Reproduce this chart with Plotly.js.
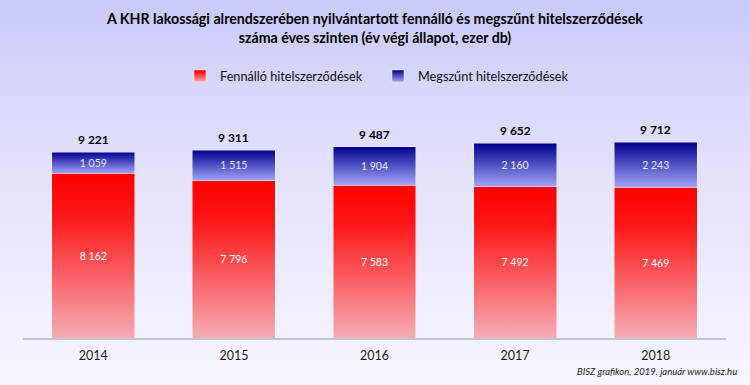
<!DOCTYPE html>
<html>
<head>
<meta charset="utf-8">
<script src="https://cdn.plot.ly/plotly-3.0.1.min.js"></script>
<style>
  html, body { margin: 0; padding: 0; }
  #chart { width: 750px; height: 385px; background: linear-gradient(to bottom, #cacafb 0%, #e2e2fc 45%, #f6f6ff 100%); }
</style>
</head>
<body>
<div id="chart"></div>
<script>
const years = ['2014', '2015', '2016', '2017', '2018'];
const fennallo = [8162, 7796, 7583, 7492, 7469];
const megszunt = [1059, 1515, 1904, 2160, 2243];
const seriesNames = ['Fennálló hitelszerződések', 'Megszűnt hitelszerződések'];
const titleText = 'A KHR lakossági alrendszerében nyilvántartott fennálló és megszűnt hitelszerződések<br>száma éves szinten (év végi állapot, ezer db)';
const footerText = 'BISZ grafikon, 2019. január www.bisz.hu';

function fmt(n) { return String(n).replace(/\B(?=(\d{3})+(?!\d))/g, ' '); }
const totals = years.map((y, i) => fennallo[i] + megszunt[i]);

const FONT = 'Lato, "Open Sans", sans-serif';

const traces = [
  {
    type: 'bar', name: seriesNames[0], x: years, y: fennallo,
    text: fennallo.map(fmt), textposition: 'inside', insidetextanchor: 'middle',
    insidetextfont: { family: FONT, size: 10.5, color: '#ffffff' },
    marker: { color: '#ff2020', line: { color: 'rgba(255,255,255,0.55)', width: 0.8 } },
    hoverinfo: 'skip'
  },
  {
    type: 'bar', name: seriesNames[1], x: years, y: megszunt,
    text: megszunt.map(fmt), textposition: 'inside', insidetextanchor: 'middle',
    insidetextfont: { family: FONT, size: 10.5, color: '#e6e6ff' },
    marker: { color: '#3030c0', line: { color: 'rgba(255,255,255,0.55)', width: 0.8 } },
    hoverinfo: 'skip'
  }
];

// category axis: annotation x given as category index
const annotations = years.map((y, i) => ({
  x: i, y: totals[i], xref: 'x', yref: 'y', text: fmt(totals[i]),
  showarrow: false, yanchor: 'bottom', yshift: 3,
  font: { family: FONT, size: 12, color: '#000000', weight: 'bold' }
}));
annotations.push({
  xref: 'paper', yref: 'paper', x: 1.018, y: -0.142, xanchor: 'right', yanchor: 'middle',
  text: '<i>' + footerText + '</i>', showarrow: false,
  font: { family: FONT, size: 9.5, color: '#222222' }
});

const layout = {
  width: 750, height: 385,
  paper_bgcolor: 'rgba(0,0,0,0)', plot_bgcolor: 'rgba(0,0,0,0)',
  margin: { l: 23, r: 24, t: 100, b: 47 },
  barmode: 'stack', bargap: 0.41,
  title: {
    text: titleText, x: 0.5, xanchor: 'center', y: 0.937, yanchor: 'top', yref: 'container',
    font: { family: FONT, size: 14.2, color: '#000000', weight: 'bold' }
  },
  showlegend: true,
  legend: {
    orientation: 'h', x: 0.505, xanchor: 'center', y: 1.1, yanchor: 'middle',
    font: { family: FONT, size: 12.7, color: '#111111' },
    entrywidth: 153, entrywidthmode: 'pixels', itemwidth: 30,
    bgcolor: 'rgba(0,0,0,0)', traceorder: 'normal'
  },
  xaxis: {
    type: 'category', showline: true, linecolor: '#c3c3d0', linewidth: 1.5,
    ticks: '', showgrid: false, zeroline: false, ticklabelstandoff: 5,
    tickfont: { family: FONT, size: 12.5, color: '#1a1a1a' }
  },
  yaxis: {
    range: [0, 11800], showticklabels: false, showgrid: false, zeroline: false, showline: false, ticks: ''
  },
  annotations: annotations
};

const gd = document.getElementById('chart');
function applyGradients() {
  const svg = gd.querySelector('svg.main-svg');
  if (!svg) return;
  const ns = 'http://www.w3.org/2000/svg';
  let defs = svg.querySelector('#customGradDefs');
  if (!defs) {
    defs = document.createElementNS(ns, 'defs');
    defs.setAttribute('id', 'customGradDefs');
    const specs = [
      ['gradRed', [[0, '#ff0000'], [0.25, '#fd1616'], [1, '#f6acb6']]],
      ['gradBlue', [[0, '#00008e'], [1, '#a4a4f8']]]
    ];
    specs.forEach(([id, stops]) => {
      const g = document.createElementNS(ns, 'linearGradient');
      g.setAttribute('id', id);
      g.setAttribute('x1', '0'); g.setAttribute('y1', '0');
      g.setAttribute('x2', '0'); g.setAttribute('y2', '1');
      stops.forEach(([o, c]) => {
        const s = document.createElementNS(ns, 'stop');
        s.setAttribute('offset', o); s.setAttribute('stop-color', c);
        g.appendChild(s);
      });
      defs.appendChild(g);
    });
    svg.insertBefore(defs, svg.firstChild);
  }
  const ids = ['gradRed', 'gradBlue'];
  gd.querySelectorAll('.barlayer .trace.bars').forEach((t, i) => {
    t.querySelectorAll('.point path').forEach(p => { p.style.fill = 'url(#' + ids[i] + ')'; });
  });
  gd.querySelectorAll('.legend .traces').forEach((t, i) => {
    t.querySelectorAll('.legendpoints path').forEach(p => { p.style.fill = 'url(#' + ids[i] + ')'; });
  });
}
Plotly.newPlot(gd, traces, layout, { displayModeBar: false, staticPlot: true }).then(() => {
  applyGradients();
  gd.on('plotly_afterplot', applyGradients);
});
</script>
</body>
</html>
